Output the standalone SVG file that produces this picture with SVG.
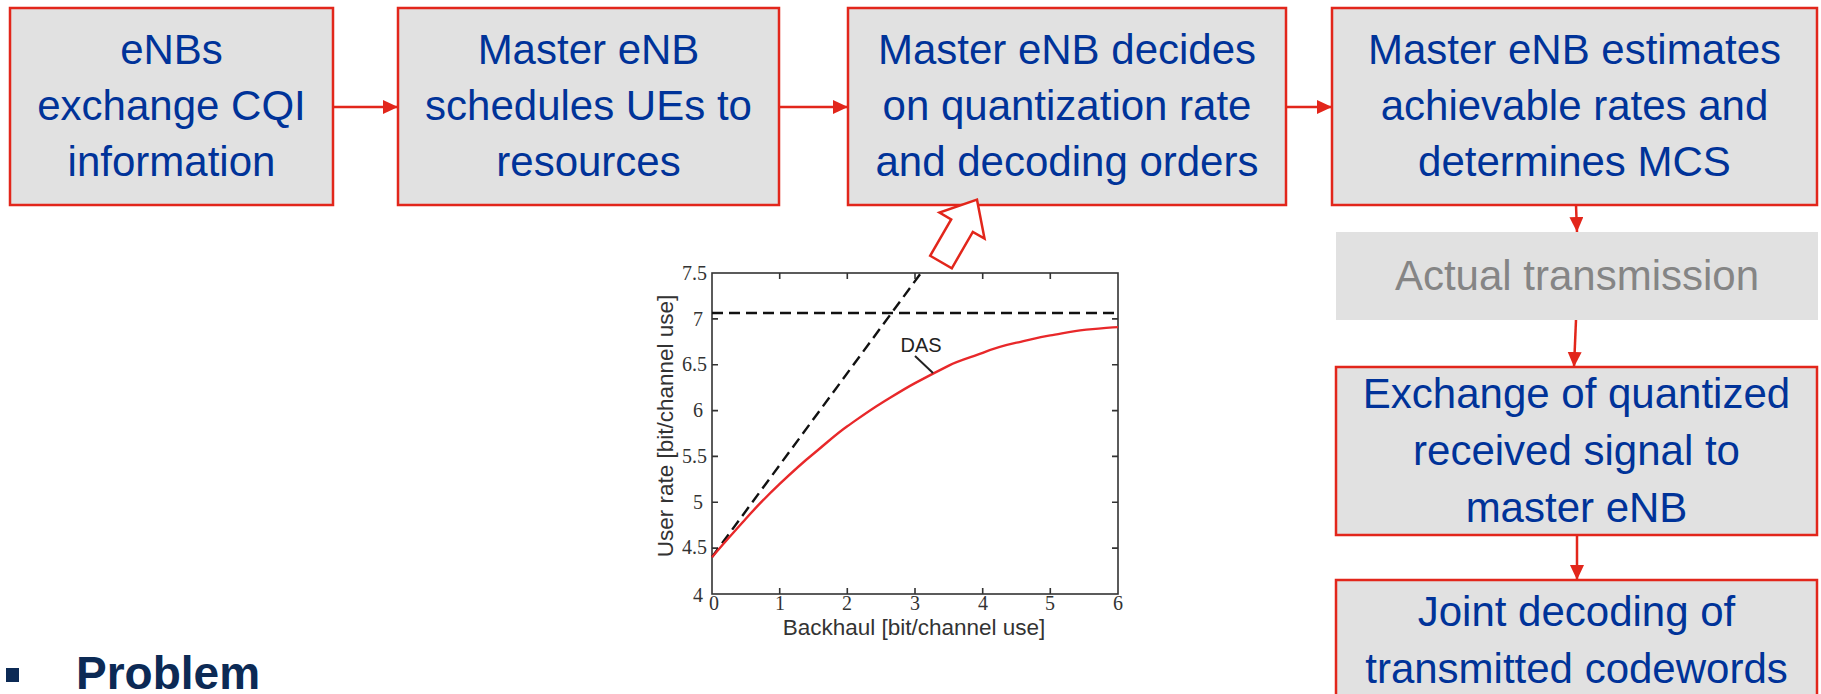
<svg xmlns="http://www.w3.org/2000/svg" width="1821" height="694" viewBox="0 0 1821 694">
  <style>
    .box { fill: #e1e1e1; stroke: #e2261b; stroke-width: 2.5; }
    .plain { fill: #e1e1e1; stroke: none; }
    .lbl { font-family: "Liberation Sans", Arial, sans-serif; font-size: 42px; fill: #003399; text-anchor: middle; }
    .grey { fill: #858585; }
    .conn { stroke: #e2261b; stroke-width: 2.5; fill: none; }
    .axis { stroke: #333; stroke-width: 1.6; fill: none; }
    .tick { font-family: "Liberation Serif", "DejaVu Serif", serif; font-size: 20px; fill: #333; }
    .axlbl { font-family: "Liberation Sans", Arial, sans-serif; font-size: 22.5px; fill: #333; text-anchor: middle; }
    .dash { stroke: #111; stroke-width: 2.4; stroke-dasharray: 11 6; fill: none; }
  </style>
  <defs>
    <marker id="arrow" markerUnits="userSpaceOnUse" markerWidth="16" markerHeight="15" refX="15" refY="7" orient="auto">
      <path d="M0,0 L15,7 L0,14 z" fill="#e2261b"/>
    </marker>
  </defs>

  <rect width="1821" height="694" fill="#ffffff"/>

  <!-- flow steps -->
  <g id="step-cqi">
    <rect class="box" x="10" y="8" width="323" height="197"/>
    <text class="lbl" x="171.5" y="64">eNBs</text>
    <text class="lbl" x="171.5" y="120">exchange CQI</text>
    <text class="lbl" x="171.5" y="176">information</text>
  </g>
  <g id="step-schedule">
    <rect class="box" x="398" y="8" width="381" height="197"/>
    <text class="lbl" x="588.5" y="64">Master eNB</text>
    <text class="lbl" x="588.5" y="120">schedules UEs to</text>
    <text class="lbl" x="588.5" y="176">resources</text>
  </g>
  <g id="step-quantization">
    <rect class="box" x="848" y="8" width="438" height="197"/>
    <text class="lbl" x="1067" y="64">Master eNB decides</text>
    <text class="lbl" x="1067" y="120">on quantization rate</text>
    <text class="lbl" x="1067" y="176">and decoding orders</text>
  </g>
  <g id="step-mcs">
    <rect class="box" x="1332" y="8" width="485" height="197"/>
    <text class="lbl" x="1574.5" y="64">Master eNB estimates</text>
    <text class="lbl" x="1574.5" y="120">achievable rates and</text>
    <text class="lbl" x="1574.5" y="176">determines MCS</text>
  </g>
  <g id="step-transmission">
    <rect class="plain" x="1336" y="232" width="482" height="88"/>
    <text class="lbl grey" x="1577" y="290">Actual transmission</text>
  </g>
  <g id="step-exchange">
    <rect class="box" x="1336" y="367" width="481" height="168"/>
    <text class="lbl" x="1576.5" y="408">Exchange of quantized</text>
    <text class="lbl" x="1576.5" y="465">received signal to</text>
    <text class="lbl" x="1576.5" y="522">master eNB</text>
  </g>
  <g id="step-decoding">
    <rect class="box" x="1336" y="580" width="481" height="130"/>
    <text class="lbl" x="1576.5" y="626">Joint decoding of</text>
    <text class="lbl" x="1576.5" y="683">transmitted codewords</text>
  </g>

  <!-- connectors -->
  <g id="connectors">
    <line class="conn" x1="333" y1="107" x2="398" y2="107" marker-end="url(#arrow)"/>
    <line class="conn" x1="779" y1="107" x2="848" y2="107" marker-end="url(#arrow)"/>
    <line class="conn" x1="1286" y1="107" x2="1332" y2="107" marker-end="url(#arrow)"/>
    <line class="conn" x1="1576" y1="205" x2="1577" y2="232" marker-end="url(#arrow)"/>
    <line class="conn" x1="1576" y1="320" x2="1574" y2="367" marker-end="url(#arrow)"/>
    <line class="conn" x1="1577" y1="535" x2="1577" y2="580" marker-end="url(#arrow)"/>
    <!-- hollow block arrow from the plot up to the quantization step -->
    <polygon transform="translate(941,262) rotate(30)" points="-12.5,0 12.5,0 12.5,-42 26,-42 0,-72 -26,-42 -12.5,-42" fill="#ffffff" stroke="#e2261b" stroke-width="2.5" stroke-linejoin="miter"/>
  </g>

  <!-- user rate vs backhaul plot -->
  <g id="rate-plot">
    <rect class="axis" x="712" y="273" width="406" height="321"/>
    <!-- x ticks -->
    <path class="axis" d="M779.7,594v-6M847.3,594v-6M915,594v-6M982.7,594v-6M1050.3,594v-6
                          M779.7,273v6M847.3,273v6M915,273v6M982.7,273v6M1050.3,273v6"/>
    <!-- y ticks -->
    <path class="axis" d="M712,318.9h6M712,364.7h6M712,410.6h6M712,456.4h6M712,502.3h6M712,548.1h6
                          M1118,318.9h-6M1118,364.7h-6M1118,410.6h-6M1118,456.4h-6M1118,502.3h-6M1118,548.1h-6"/>
    <g class="tick" text-anchor="end">
      <text x="707" y="280">7.5</text>
      <text x="703" y="326">7</text>
      <text x="707" y="371">6.5</text>
      <text x="703" y="417">6</text>
      <text x="707" y="463">5.5</text>
      <text x="703" y="509">5</text>
      <text x="707" y="554">4.5</text>
      <text x="703" y="602">4</text>
    </g>
    <g class="tick" text-anchor="middle">
      <text x="714" y="610">0</text>
      <text x="780" y="610">1</text>
      <text x="847" y="610">2</text>
      <text x="915" y="610">3</text>
      <text x="983" y="610">4</text>
      <text x="1050" y="610">5</text>
      <text x="1118" y="610">6</text>
    </g>
    <text class="axlbl" x="914" y="635">Backhaul [bit/channel use]</text>
    <text class="axlbl" transform="translate(673,426) rotate(-90)">User rate [bit/channel use]</text>

    <line class="dash" x1="712" y1="313" x2="1118" y2="313"/>
    <line class="dash" x1="712" y1="557" x2="921" y2="273"/>
    <path d="M712,557.3 C723,544 735,531 745.8,518.8 S768,495 779.7,483.9 S802,463 813.5,453.7 S836,434 847.3,426.2 S870,410 881.2,403.2 S904,389 915,383.1 S938,371 948.8,365.6 S972,357 982.7,352.8 S1006,345 1016.5,342.7 S1040,337 1050.3,335.4 S1073,331 1084.2,329.9 S1107,327.5 1118,327.1"
          fill="none" stroke="#e8282a" stroke-width="2.4"/>
    <text x="921" y="352" font-family="Liberation Sans, Arial, sans-serif" font-size="20" fill="#222" text-anchor="middle">DAS</text>
    <line x1="915" y1="356" x2="933" y2="373" stroke="#222" stroke-width="2"/>
  </g>

  <!-- bullet heading -->
  <g id="heading">
    <rect x="6" y="668" width="13" height="14" fill="#0c2a55"/>
    <text x="76" y="689" font-family="Liberation Sans, Arial, sans-serif" font-size="46" font-weight="bold" fill="#0c2a55">Problem</text>
  </g>
</svg>
